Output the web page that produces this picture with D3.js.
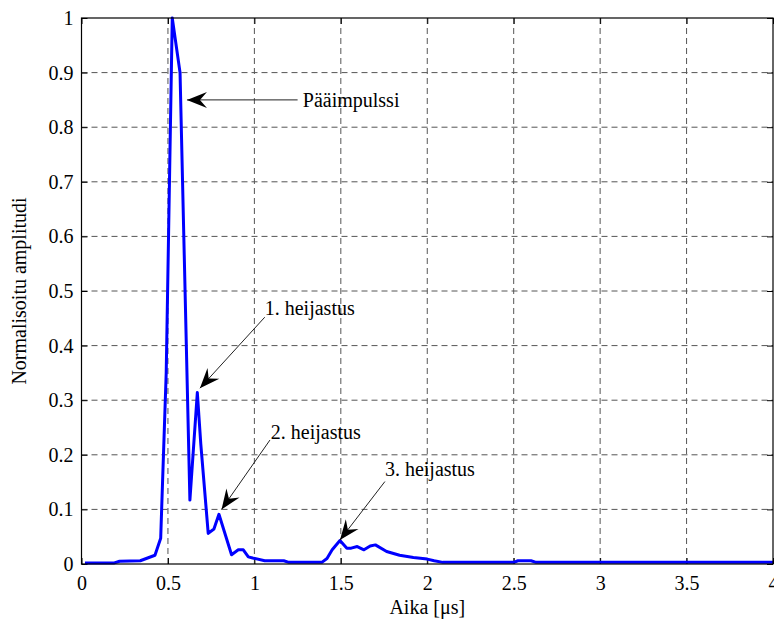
<!DOCTYPE html>
<html>
<head>
<meta charset="utf-8">
<script src="https://cdn.jsdelivr.net/npm/d3@7"></script>
<style>
  body { margin: 0; background: white; }
  svg { display: block; }
  text { font-family: "Liberation Serif", "Times New Roman", serif; }
</style>
</head>
<body>
<div id="chart"></div>
<script>
'use strict';

// data (time in us, normalised amplitude)
let timeVals = [0.02, 0.19, 0.22, 0.34, 0.425, 0.458, 0.49, 0.525, 0.57, 0.627, 0.67, 0.69, 0.733, 0.766, 0.795,
                0.868, 0.907, 0.936, 0.965, 0.99, 1.06, 1.17, 1.20, 1.39, 1.42, 1.45, 1.495, 1.535, 1.56, 1.595,
                1.634, 1.67, 1.70, 1.765, 1.84, 1.92, 2.0, 2.04, 2.09, 2.5, 2.525, 2.6, 2.63, 4.0];
let ampVals  = [0.002, 0.002, 0.005, 0.006, 0.016, 0.047, 0.35, 1.0, 0.90, 0.117, 0.314, 0.22, 0.056, 0.064, 0.091,
                0.017, 0.026, 0.026, 0.013, 0.011, 0.006, 0.006, 0.003, 0.003, 0.01, 0.026, 0.043, 0.029, 0.029, 0.032,
                0.026, 0.033, 0.035, 0.023, 0.016, 0.012, 0.009, 0.006, 0.003, 0.003, 0.006, 0.006, 0.003, 0.003];

let xTicks = [0, 0.5, 1, 1.5, 2, 2.5, 3, 3.5, 4];
let yTicks = [0, 0.1, 0.2, 0.3, 0.4, 0.5, 0.6, 0.7, 0.8, 0.9, 1];

// annotations: label, text anchor point and arrow tip (data units)
let noteLabels = ['Pääimpulssi', '1. heijastus', '2. heijastus', '3. heijastus'];
let noteText   = [[1.28, 0.85], [1.06, 0.468], [1.095, 0.242], [1.755, 0.174]];
let noteFrom   = [[1.25, 0.85], [1.06, 0.452], [1.09, 0.227], [1.755, 0.151]];
let noteTip    = [[0.61, 0.85], [0.685, 0.322], [0.81, 0.10], [1.495, 0.044]];

let width = 774;
let height = 623;
let margin = {top: 18, right: 1, bottom: 59, left: 81.5};
let w = width - margin.left - margin.right;
let h = height - margin.top - margin.bottom;

let svg = d3.select('#chart').append('svg').attr('width', width).attr('height', height);
let g = svg.append('g').attr('transform', `translate(${margin.left},${margin.top})`);

let x = d3.scaleLinear().domain([0, 4]).range([0, w]);
let y = d3.scaleLinear().domain([0, 1]).range([h, 0]);

//grid (dashed)
g.selectAll('.vgrid').data(xTicks.slice(1, -1)).enter().append('line')
  .attr('x1', d => x(d)).attr('x2', d => x(d)).attr('y1', 0).attr('y2', h)
  .attr('stroke', '#555').attr('stroke-width', 1).attr('stroke-dasharray', '6,4');
g.selectAll('.hgrid').data(yTicks.slice(1, -1)).enter().append('line')
  .attr('y1', d => y(d)).attr('y2', d => y(d)).attr('x1', 0).attr('x2', w)
  .attr('stroke', '#555').attr('stroke-width', 1).attr('stroke-dasharray', '6,4');

//axes with inward ticks
let xAxis = g.append('g').attr('transform', `translate(0,${h})`)
  .call(d3.axisBottom(x).tickValues(xTicks).tickFormat(d3.format('')).tickSizeInner(-6).tickSizeOuter(0).tickPadding(12));
let xTop = g.append('g')
  .call(d3.axisTop(x).tickValues(xTicks).tickFormat('').tickSizeInner(-6).tickSizeOuter(0));
let yAxis = g.append('g')
  .call(d3.axisLeft(y).tickValues(yTicks).tickFormat(d3.format('')).tickSizeInner(-6).tickSizeOuter(0).tickPadding(8));
let yRight = g.append('g').attr('transform', `translate(${w},0)`)
  .call(d3.axisRight(y).tickValues(yTicks).tickFormat('').tickSizeInner(-6).tickSizeOuter(0));

[xAxis, xTop, yAxis, yRight].forEach(a => {
  a.select('.domain').remove();
  a.selectAll('line').attr('stroke', 'black');
  a.selectAll('text').attr('fill', 'black').style('font-size', '20px')
    .style('font-family', '"Liberation Serif", "Times New Roman", serif');
});

//the curve
let pts = timeVals.map((t, i) => [t, ampVals[i]]);
g.append('path').datum(pts)
  .attr('d', d3.line().x(d => x(d[0])).y(d => y(d[1])))
  .attr('fill', 'none').attr('stroke', '#0000ff').attr('stroke-width', 3).attr('stroke-linejoin', 'round');

//box
g.append('rect').attr('x', 0).attr('y', 0).attr('width', w).attr('height', h)
  .attr('fill', 'none').attr('stroke', 'black').attr('stroke-width', 1.2);

//annotation arrows
function arrowHead(x0, y0, x1, y1) {
  let a = Math.atan2(y1 - y0, x1 - x0);
  let len = 20, half = 8, notch = 13;
  let bx = x1 - len * Math.cos(a), by = y1 - len * Math.sin(a);
  let nx = x1 - notch * Math.cos(a), ny = y1 - notch * Math.sin(a);
  let px = -Math.sin(a), py = Math.cos(a);
  return `M${x1},${y1}L${bx + half * px},${by + half * py}L${nx},${ny}L${bx - half * px},${by - half * py}Z`;
}

noteLabels.forEach((lab, i) => {
  let x0 = x(noteFrom[i][0]), y0 = y(noteFrom[i][1]);
  let x1 = x(noteTip[i][0]), y1 = y(noteTip[i][1]);
  g.append('line').attr('x1', x0).attr('y1', y0).attr('x2', x1).attr('y2', y1)
    .attr('stroke', '#222').attr('stroke-width', 1);
  g.append('path').attr('d', arrowHead(x0, y0, x1, y1)).attr('fill', 'black');
  g.append('text').text(lab).attr('x', x(noteText[i][0])).attr('y', y(noteText[i][1]))
    .attr('dy', '0.35em').attr('text-anchor', 'start').attr('fill', 'black').style('font-size', '20px');
});

//axis labels
svg.append('text').text('Aika [μs]').attr('x', margin.left + w / 2).attr('y', 614)
  .attr('text-anchor', 'middle').style('font-size', '20px');
svg.append('text').text('Normalisoitu amplitudi')
  .attr('transform', `translate(26,${margin.top + h / 2}) rotate(-90)`)
  .attr('text-anchor', 'middle').style('font-size', '20px');
</script>
</body>
</html>
